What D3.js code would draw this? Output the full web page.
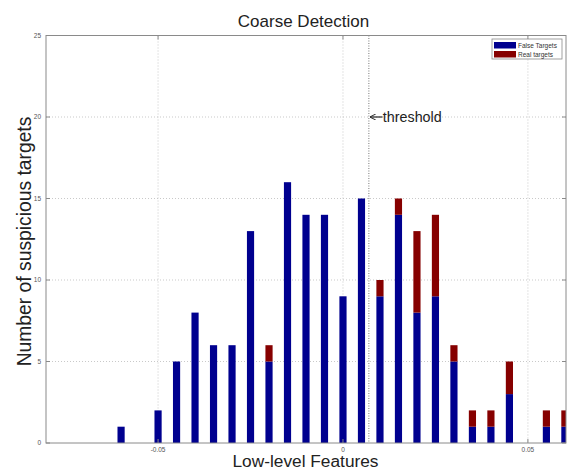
<!DOCTYPE html>
<html>
<head>
<meta charset="utf-8">
<script src="https://cdn.jsdelivr.net/npm/d3@7"></script>
<style>
  html, body { margin: 0; padding: 0; background: #fff; }
  svg { display: block; font-family: "Liberation Sans", Arial, sans-serif; }
</style>
</head>
<body>
<div id="chart"></div>
<script>
// Histogram bin centres and counts per class
const binCenters = [-0.06, -0.055, -0.05, -0.045, -0.04, -0.035, -0.03, -0.025, -0.02, -0.015,
                    -0.01, -0.005, 0, 0.005, 0.01, 0.015, 0.02, 0.025, 0.03, 0.035,
                    0.04, 0.045, 0.05, 0.055, 0.06];
const falseTargets = [1, 0, 2, 5, 8, 6, 6, 13, 5, 16, 14, 14, 9, 15, 9, 14, 8, 9, 5, 1, 1, 3, 0, 1, 1];
const realTargets  = [0, 0, 0, 0, 0, 0, 0, 0, 1, 0, 0, 0, 0, 0, 1, 1, 5, 5, 1, 1, 1, 2, 0, 1, 1];
const seriesNames = ["False Targets", "Real targets"];
const xTicks = [-0.05, 0, 0.05];
const xTickLabels = ["-0.05", "0", "0.05"];
const yTicks = [0, 5, 10, 15, 20, 25];
const thresholdValue = 0.007;
const thresholdLabelAt = 20;

const W = 571, H = 471;
const m = { left: 46, right: 5, top: 35.5, bottom: 28 };
const pw = W - m.left - m.right, ph = H - m.top - m.bottom;
const colors = ["#00008f", "#860000"];

const x = d3.scaleLinear().domain([-0.0803, 0.0603]).range([0, pw]);
const y = d3.scaleLinear().domain([0, 25]).range([ph, 0]);

const svg = d3.select("#chart").append("svg").attr("width", W).attr("height", H);
const defs = svg.append("defs");
defs.append("clipPath").attr("id", "plotclip")
  .append("rect").attr("width", pw).attr("height", ph);
defs.append("marker").attr("id", "arrowhead")
  .attr("viewBox", "0 0 10 10").attr("refX", 9).attr("refY", 5)
  .attr("markerWidth", 6).attr("markerHeight", 6).attr("orient", "auto")
  .attr("markerUnits", "userSpaceOnUse")
  .append("path").attr("d", "M0,0 L10,5 L0,10").attr("fill", "none")
  .attr("stroke", "#222").attr("stroke-width", 1.6);

const g = svg.append("g").attr("transform", `translate(${m.left},${m.top})`);

// grid
const grid = g.append("g").attr("stroke", "#bbb").attr("stroke-width", 0.8).attr("stroke-dasharray", "1,2");
grid.selectAll(".gx").data(xTicks).join("line")
  .attr("x1", d => x(d)).attr("x2", d => x(d)).attr("y1", 0).attr("y2", ph);
grid.selectAll(".gy").data(yTicks.filter(d => d > 0 && d < 25)).join("line")
  .attr("x1", 0).attr("x2", pw).attr("y1", d => y(d)).attr("y2", d => y(d));

// threshold
g.append("line")
  .attr("x1", x(thresholdValue)).attr("x2", x(thresholdValue))
  .attr("y1", 0).attr("y2", ph)
  .attr("stroke", "#777").attr("stroke-width", 1).attr("stroke-dasharray", "1,1.5");

// stacked bars
const rows = binCenters.map((c, i) => ({ c, f: falseTargets[i], r: realTargets[i] }));
const stack = d3.stack().keys(["f", "r"])(rows);
const halfW = 0.00097;
const bars = g.append("g").attr("clip-path", "url(#plotclip)");
stack.forEach((layer, k) => {
  bars.append("g").attr("fill", colors[k])
    .selectAll("rect").data(layer.filter(d => d[1] > d[0])).join("rect")
    .attr("x", d => x(d.data.c - halfW))
    .attr("width", d => x(d.data.c + halfW) - x(d.data.c - halfW))
    .attr("y", d => y(d[1]))
    .attr("height", d => y(d[0]) - y(d[1]));
});

// frame
g.append("rect").attr("width", pw).attr("height", ph)
  .attr("fill", "none").attr("stroke", "#8a8a8a").attr("stroke-width", 1);

// inward ticks
const tk = g.append("g").attr("stroke", "#8a8a8a").attr("stroke-width", 1);
xTicks.forEach(v => {
  tk.append("line").attr("x1", x(v)).attr("x2", x(v)).attr("y1", ph).attr("y2", ph - 4);
  tk.append("line").attr("x1", x(v)).attr("x2", x(v)).attr("y1", 0).attr("y2", 4);
});
yTicks.forEach(v => {
  tk.append("line").attr("x1", 0).attr("x2", 4).attr("y1", y(v)).attr("y2", y(v));
  tk.append("line").attr("x1", pw).attr("x2", pw - 4).attr("y1", y(v)).attr("y2", y(v));
});

// tick labels
g.selectAll(".xl").data(xTicks).join("text")
  .attr("x", d => x(d)).attr("y", ph + 8.5)
  .attr("text-anchor", "middle").attr("font-size", 6.5).attr("fill", "#555")
  .text((d, i) => xTickLabels[i]);
g.selectAll(".yl").data(yTicks).join("text")
  .attr("x", -5).attr("y", d => y(d) + 2.3)
  .attr("text-anchor", "end").attr("font-size", 6.5).attr("fill", "#555")
  .text(d => d);

// threshold annotation: arrow pointing at the line, then the label
const tx = x(thresholdValue), ty = y(thresholdLabelAt);
g.append("line")
  .attr("x1", tx + 13.5).attr("x2", tx + 1.5).attr("y1", ty).attr("y2", ty)
  .attr("stroke", "#222").attr("stroke-width", 1.2)
  .attr("marker-end", "url(#arrowhead)");
g.append("text")
  .attr("x", tx + 14).attr("y", ty + 5)
  .attr("font-size", 14.3).attr("fill", "#222")
  .text("threshold");

// titles
svg.append("text").attr("x", 303.5).attr("y", 26.5)
  .attr("text-anchor", "middle").attr("font-size", 17).attr("fill", "#222")
  .text("Coarse Detection");
svg.append("text").attr("x", 305.5).attr("y", 467)
  .attr("text-anchor", "middle").attr("font-size", 17.3).attr("fill", "#222")
  .text("Low-level Features");
svg.append("text")
  .attr("transform", "translate(31,241.5) rotate(-90)")
  .attr("text-anchor", "middle").attr("font-size", 19.3).attr("fill", "#222")
  .text("Number of suspicious targets");

// legend
const lg = svg.append("g").attr("transform", "translate(492,39)");
lg.append("rect").attr("width", 70).attr("height", 20)
  .attr("fill", "#fff").attr("stroke", "#8a8a8a").attr("stroke-width", 0.8);
seriesNames.forEach((name, i) => {
  lg.append("rect").attr("x", 2).attr("y", 3 + i * 9).attr("width", 22).attr("height", 6.5)
    .attr("fill", colors[i]);
  lg.append("text").attr("x", 26).attr("y", 8.6 + i * 9)
    .attr("font-size", 6.5).attr("fill", "#333").text(name);
});
</script>
</body>
</html>
